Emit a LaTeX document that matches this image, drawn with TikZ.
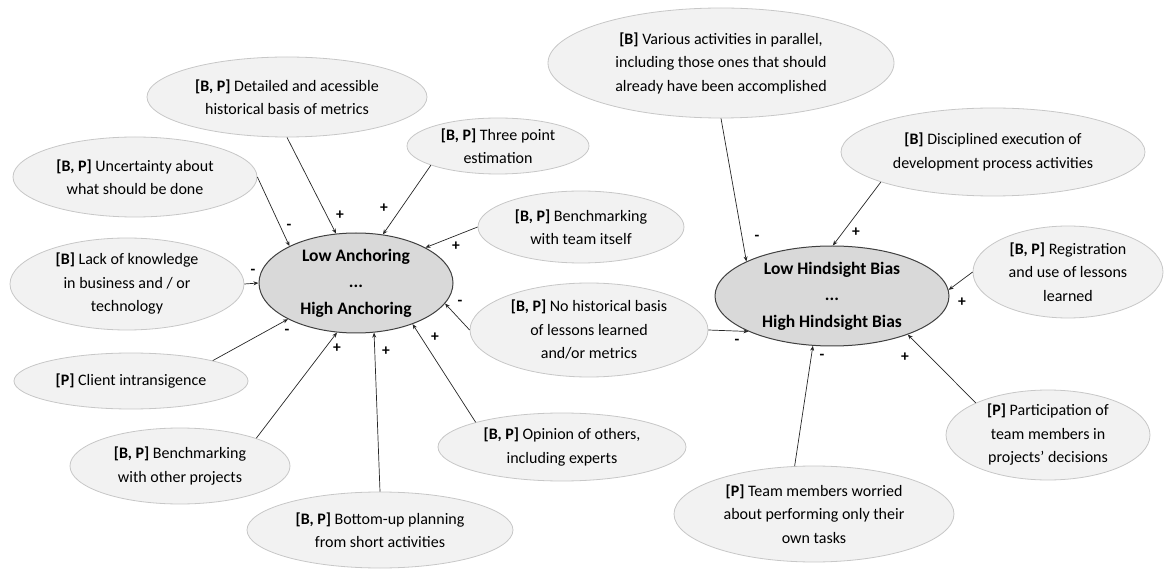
\documentclass[tikz,border=0pt]{standalone}
\usepackage{fontspec}
\setmainfont{Carlito}
\usetikzlibrary{shapes.geometric,arrows.meta}
\begin{document}
\begin{tikzpicture}[x=1pt,y=-1pt,
  sat/.style={ellipse, draw=black!22, line width=0.8pt, fill=black!5, inner sep=-20pt, align=center, font=\fontsize{16}{23.5}\selectfont},
  core/.style={ellipse, draw=black!75, line width=1pt, fill=black!15, inner sep=-20pt, align=center, font=\fontsize{17.5}{26.5}\selectfont\bfseries},
  arr/.style={draw=black!85, line width=0.7pt, -{Stealth[length=5pt,width=4pt]}},
  sgn/.style={font=\fontsize{15.5}{15.5}\selectfont\bfseries, inner sep=0pt}
]
\useasboundingbox (0,0) rectangle (1165,569);

% left cluster
\node[sat, minimum width=280pt, minimum height=80pt] (A1) at (287,97) {\textbf{[B, P]} Detailed and acessible\\historical basis of metrics};
\node[sat, minimum width=182pt, minimum height=56pt] (A2) at (498,146) {\textbf{[B, P]} Three point\\estimation};
\node[sat, minimum width=244pt, minimum height=80pt] (A3) at (135,177) {\textbf{[B, P]} Uncertainty about\\what should be done};
\node[sat, minimum width=206pt, minimum height=72pt] (A4) at (581,227) {\textbf{[B, P]} Benchmarking\\with team itself};
\node[sat, minimum width=234pt, minimum height=92pt] (A5) at (127,284) {\textbf{[B]} Lack of knowledge\\in business and / or\\technology};
\node[sat, minimum width=238pt, minimum height=94pt] (A6) at (589,330) {\textbf{[B, P]} No historical basis\\of lessons learned\\and/or metrics};
\node[sat, minimum width=234pt, minimum height=56pt] (A7) at (131,381) {\textbf{[P]} Client intransigence};
\node[sat, minimum width=248pt, minimum height=68pt] (A8) at (562,447) {\textbf{[B, P]} Opinion of others,\\including experts};
\node[sat, minimum width=220pt, minimum height=76pt] (A9) at (180,466) {\textbf{[B, P]} Benchmarking\\with other projects};
\node[sat, minimum width=266pt, minimum height=76pt] (A10) at (380,530) {\textbf{[B, P]} Bottom-up planning\\from short activities};
\node[core, minimum width=194pt, minimum height=100pt] (CL) at (356,283) {Low Anchoring\\...\\High Anchoring};

% right cluster
\node[sat, minimum width=346pt, minimum height=110pt] (B1) at (721,63) {\textbf{[B]} Various activities in parallel,\\including those ones that should\\already have been accomplished};
\node[sat, minimum width=304pt, minimum height=88pt] (B2) at (993,152) {\textbf{[B]} Disciplined execution of\\development process activities};
\node[sat, minimum width=190pt, minimum height=92pt] (B3) at (1068,272) {\textbf{[B, P]} Registration\\and use of lessons\\learned};
\node[sat, minimum width=204pt, minimum height=90pt] (B4) at (1048,435) {\textbf{[P]} Participation of\\team members in\\projects’ decisions};
\node[sat, minimum width=280pt, minimum height=96pt] (B5) at (814,514) {\textbf{[P]} Team members worried\\about performing only their\\own tasks};
\node[core, minimum width=234pt, minimum height=100pt] (CR) at (832,296) {Low Hindsight Bias\\...\\High Hindsight Bias};

% connectors left
\draw[arr] (A3.0) -- (CL.151);
\draw[arr] (A1.270) -- (CL.112);
\draw[arr] (A2.196) -- (CL.61);
\draw[arr] (A4.180) -- (CL.27);
\draw[arr] (A5.0) -- (CL.180);
\draw[arr] (A7.14) -- (CL.208);
\draw[arr] (A9.20) -- (CL.249);
\draw[arr] (A10.90) -- (CL.290);
\draw[arr] (A8.164) -- (CL.324);
\draw[arr] (A6.180) -- (CL.347);
% connectors right
\draw[arr] (B1.270) -- (CR.158);
\draw[arr] (B2.195) -- (CR.89);
\draw[arr] (B3.180) -- (CR.3);
\draw[arr] (A6.0) -- (CR.203);
\draw[arr] (B5.112) -- (CR.249);
\draw[arr] (B4.156) -- (CR.333);

% signs
\node[sgn] (s1) at (289,227) {-};
\node[sgn] (s2) at (340,215) {+};
\node[sgn] (s3) at (384,208) {+};
\node[sgn] (s4) at (456,246) {+};
\node[sgn] (s5) at (253,272) {-};
\node[sgn] (s6) at (287,332) {-};
\node[sgn] (s7) at (337,348) {+};
\node[sgn] (s8) at (386,351) {+};
\node[sgn] (s9) at (435,337) {+};
\node[sgn] (s10) at (460,303) {-};
\node[sgn] (s11) at (757,238) {-};
\node[sgn] (s12) at (856,232) {+};
\node[sgn] (s13) at (962,302) {+};
\node[sgn] (s14) at (737,342) {-};
\node[sgn] (s15) at (822,357) {-};
\node[sgn] (s16) at (905,357) {+};
\end{tikzpicture}
\end{document}
